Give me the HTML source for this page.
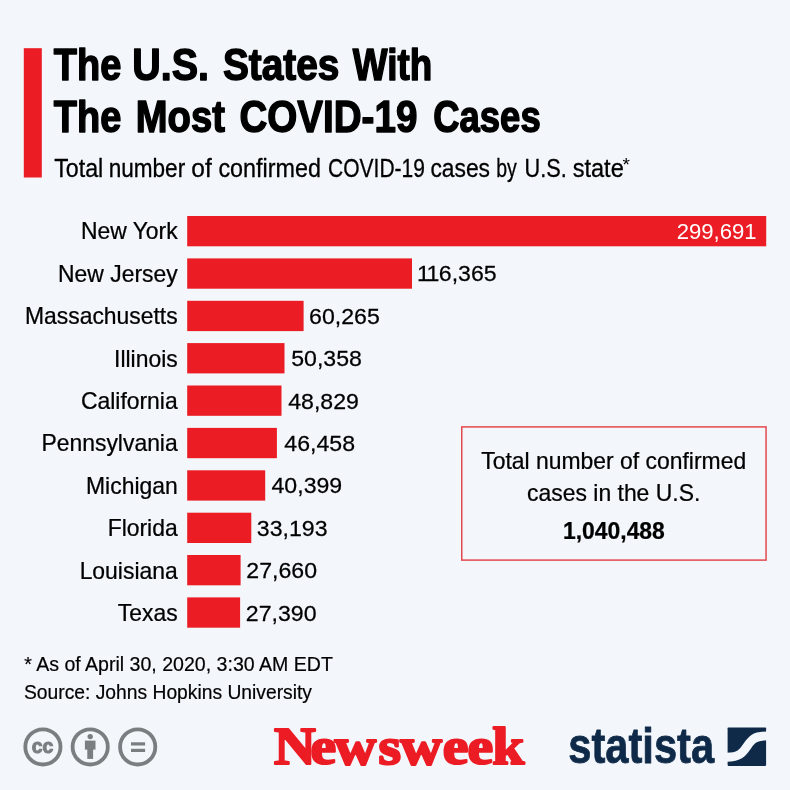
<!DOCTYPE html>
<html lang="en">
<head>
<meta charset="utf-8">
<title>The U.S. States With The Most COVID-19 Cases</title>
<style>
html,body{margin:0;padding:0;background:#f3f7fb;}
body{width:790px;height:790px;overflow:hidden;font-family:"Liberation Sans",Arial,sans-serif;}
svg{display:block;}
text{font-family:"Liberation Sans",Arial,sans-serif;fill:#000;}
.lab{font-size:23.2px;stroke:#000;stroke-width:0.25px;}
.ttl{font-size:43.6px;font-weight:bold;stroke:#000;stroke-width:1.45px;stroke-linejoin:round;}
.sub{font-size:25.5px;stroke:#000;stroke-width:0.3px;}
.note{font-size:20.1px;stroke:#000;stroke-width:0.2px;}
.box{font-size:23.2px;stroke:#000;stroke-width:0.25px;}
.nw{font-family:"Liberation Serif","DejaVu Serif",serif;font-weight:bold;fill:#ec1c24;stroke:#ec1c24;stroke-width:2.2px;stroke-linejoin:round;font-size:52.5px;}
.st{font-weight:bold;fill:#0f2a48;stroke:#0f2a48;stroke-width:0.8px;stroke-linejoin:round;font-size:50px;}
</style>
</head>
<body>
<svg width="790" height="790" viewBox="0 0 790 790">
<rect x="0" y="0" width="790" height="790" fill="#f3f7fb"/>
<rect x="23.8" y="48.2" width="18" height="129.3" fill="#ec1c24"/>
<text y="80.2" class="ttl"><tspan x="53.8" textLength="67.5" lengthAdjust="spacingAndGlyphs">The</tspan> <tspan x="132.3" textLength="76.7" lengthAdjust="spacingAndGlyphs">U.S.</tspan> <tspan x="222.9" textLength="116.5" lengthAdjust="spacingAndGlyphs">States</tspan> <tspan x="352.8" textLength="79.5" lengthAdjust="spacingAndGlyphs">With</tspan></text>
<text y="132" class="ttl"><tspan x="53.8" textLength="67.5" lengthAdjust="spacingAndGlyphs">The</tspan> <tspan x="135.8" textLength="89.1" lengthAdjust="spacingAndGlyphs">Most</tspan> <tspan x="239.4" textLength="178" lengthAdjust="spacingAndGlyphs">COVID-19</tspan> <tspan x="433.2" textLength="107.5" lengthAdjust="spacingAndGlyphs">Cases</tspan></text>
<text y="177.2" class="sub"><tspan x="54.2" textLength="49.1" lengthAdjust="spacingAndGlyphs">Total</tspan> <tspan x="108.7" textLength="76.5" lengthAdjust="spacingAndGlyphs">number</tspan> <tspan x="191.3" textLength="20.5" lengthAdjust="spacingAndGlyphs">of</tspan> <tspan x="218.4" textLength="102.5" lengthAdjust="spacingAndGlyphs">confirmed</tspan> <tspan x="328.0" textLength="97.0" lengthAdjust="spacingAndGlyphs">COVID-19</tspan> <tspan x="430.4" textLength="59.6" lengthAdjust="spacingAndGlyphs">cases</tspan> <tspan x="496.2" textLength="20.6" lengthAdjust="spacingAndGlyphs">by</tspan> <tspan x="524.6" textLength="42.2" lengthAdjust="spacingAndGlyphs">U.S.</tspan> <tspan x="572.7" textLength="51.1" lengthAdjust="spacingAndGlyphs">state</tspan></text>
<text x="622.4" y="170.6" font-size="19">*</text>
<rect x="187.2" y="216.0" width="579.0" height="30.3" fill="#ec1c24"/>
<text transform="translate(177.7 239.4) scale(0.988 1)" text-anchor="end" class="lab">New York</text>
<text transform="translate(756.6 239.0) scale(0.988 1)" text-anchor="end" class="lab" style="fill:#fff;stroke:none;font-size:22.4px">299,691</text>
<rect x="187.2" y="258.4" width="224.8" height="30.3" fill="#ec1c24"/>
<text transform="translate(177.7 281.8) scale(0.988 1)" text-anchor="end" class="lab">New Jersey</text>
<text transform="translate(416.9 281.4) scale(1.01 1)" dx="0 -1.6 -0.5" class="lab" style="font-size:22.9px">116,365</text>
<rect x="187.2" y="300.8" width="116.4" height="30.3" fill="#ec1c24"/>
<text transform="translate(177.7 324.2) scale(0.988 1)" text-anchor="end" class="lab">Massachusetts</text>
<text transform="translate(309.1 323.8) scale(1.01 1)" class="lab" style="font-size:22.9px">60,265</text>
<rect x="187.2" y="343.1" width="97.3" height="30.3" fill="#ec1c24"/>
<text transform="translate(177.7 366.6) scale(0.988 1)" text-anchor="end" class="lab">Illinois</text>
<text transform="translate(291.2 366.2) scale(1.01 1)" class="lab" style="font-size:22.9px">50,358</text>
<rect x="187.2" y="385.5" width="94.3" height="30.3" fill="#ec1c24"/>
<text transform="translate(177.7 409.0) scale(0.988 1)" text-anchor="end" class="lab">California</text>
<text transform="translate(288.2 408.6) scale(1.01 1)" class="lab" style="font-size:22.9px">48,829</text>
<rect x="187.2" y="427.9" width="89.7" height="30.3" fill="#ec1c24"/>
<text transform="translate(177.7 451.3) scale(0.988 1)" text-anchor="end" class="lab">Pennsylvania</text>
<text transform="translate(284.3 450.9) scale(1.01 1)" class="lab" style="font-size:22.9px">46,458</text>
<rect x="187.2" y="470.3" width="78.0" height="30.3" fill="#ec1c24"/>
<text transform="translate(177.7 493.7) scale(0.988 1)" text-anchor="end" class="lab">Michigan</text>
<text transform="translate(271.5 493.3) scale(1.01 1)" class="lab" style="font-size:22.9px">40,399</text>
<rect x="187.2" y="512.7" width="64.1" height="30.3" fill="#ec1c24"/>
<text transform="translate(177.7 536.1) scale(0.988 1)" text-anchor="end" class="lab">Florida</text>
<text transform="translate(256.8 535.7) scale(1.01 1)" class="lab" style="font-size:22.9px">33,193</text>
<rect x="187.2" y="555.0" width="53.4" height="30.3" fill="#ec1c24"/>
<text transform="translate(177.7 578.5) scale(0.988 1)" text-anchor="end" class="lab">Louisiana</text>
<text transform="translate(246.3 578.1) scale(1.01 1)" class="lab" style="font-size:22.9px">27,660</text>
<rect x="187.2" y="597.4" width="52.9" height="30.3" fill="#ec1c24"/>
<text transform="translate(177.7 620.9) scale(0.988 1)" text-anchor="end" class="lab">Texas</text>
<text transform="translate(245.8 620.5) scale(1.01 1)" class="lab" style="font-size:22.9px">27,390</text>
<rect x="461.75" y="426.9" width="304.3" height="133.2" fill="none" stroke="#e2484e" stroke-width="1.5"/>
<text transform="translate(613.7 469) scale(0.988 1)" text-anchor="middle" class="box">Total number of confirmed</text>
<text transform="translate(613.7 500.8) scale(0.988 1)" text-anchor="middle" class="box">cases in the U.S.</text>
<text transform="translate(613.9 538.7) scale(0.988 1)" text-anchor="middle" class="box" font-weight="bold">1,040,488</text>
<text x="24.2" y="671.3" class="note" textLength="308.7" lengthAdjust="spacingAndGlyphs">* As of April 30, 2020, 3:30 AM EDT</text>
<text x="24" y="698.8" class="note" textLength="288" lengthAdjust="spacingAndGlyphs">Source: Johns Hopkins University</text>
<g fill="none" stroke="#7a7e80" stroke-width="3.8">
<circle cx="42.9" cy="746.9" r="17.6"/>
<circle cx="90.2" cy="746.9" r="17.6"/>
<circle cx="137.7" cy="746.9" r="17.6"/>
</g>
<text x="42.6" y="752.7" text-anchor="middle" font-size="20" font-weight="bold" textLength="21.6" lengthAdjust="spacingAndGlyphs" style="fill:#7a7e80;stroke:#7a7e80;stroke-width:1px">cc</text>
<g fill="#7a7e80">
<circle cx="90.2" cy="736.6" r="2.7"/>
<rect x="84.9" y="740.6" width="10.6" height="9"/>
<rect x="87.3" y="748" width="5.8" height="10.9"/>
<rect x="131" y="742.3" width="14.1" height="3.2"/>
<rect x="131" y="748.8" width="14.1" height="3.2"/>
</g>
<text transform="scale(1.1 1)" x="249.1 282.2 304.2 344.0 363.9 402.6 425.0 447.5" y="764.4" class="nw">Newsweek</text>
<text x="568.2" y="763.1" class="st" textLength="146" lengthAdjust="spacingAndGlyphs">statista</text>
<rect x="727.6" y="727.4" width="38.5" height="38.5" rx="0.8" fill="#0f2a48"/>
<path d="M726.6 757.2 C739.5 757.2 742.5 753 746.9 746.5 C751.3 740 754 735.9 767.1 735.9" fill="none" stroke="#f3f7fb" stroke-width="8.9"/>
</svg>
</body>
</html>
